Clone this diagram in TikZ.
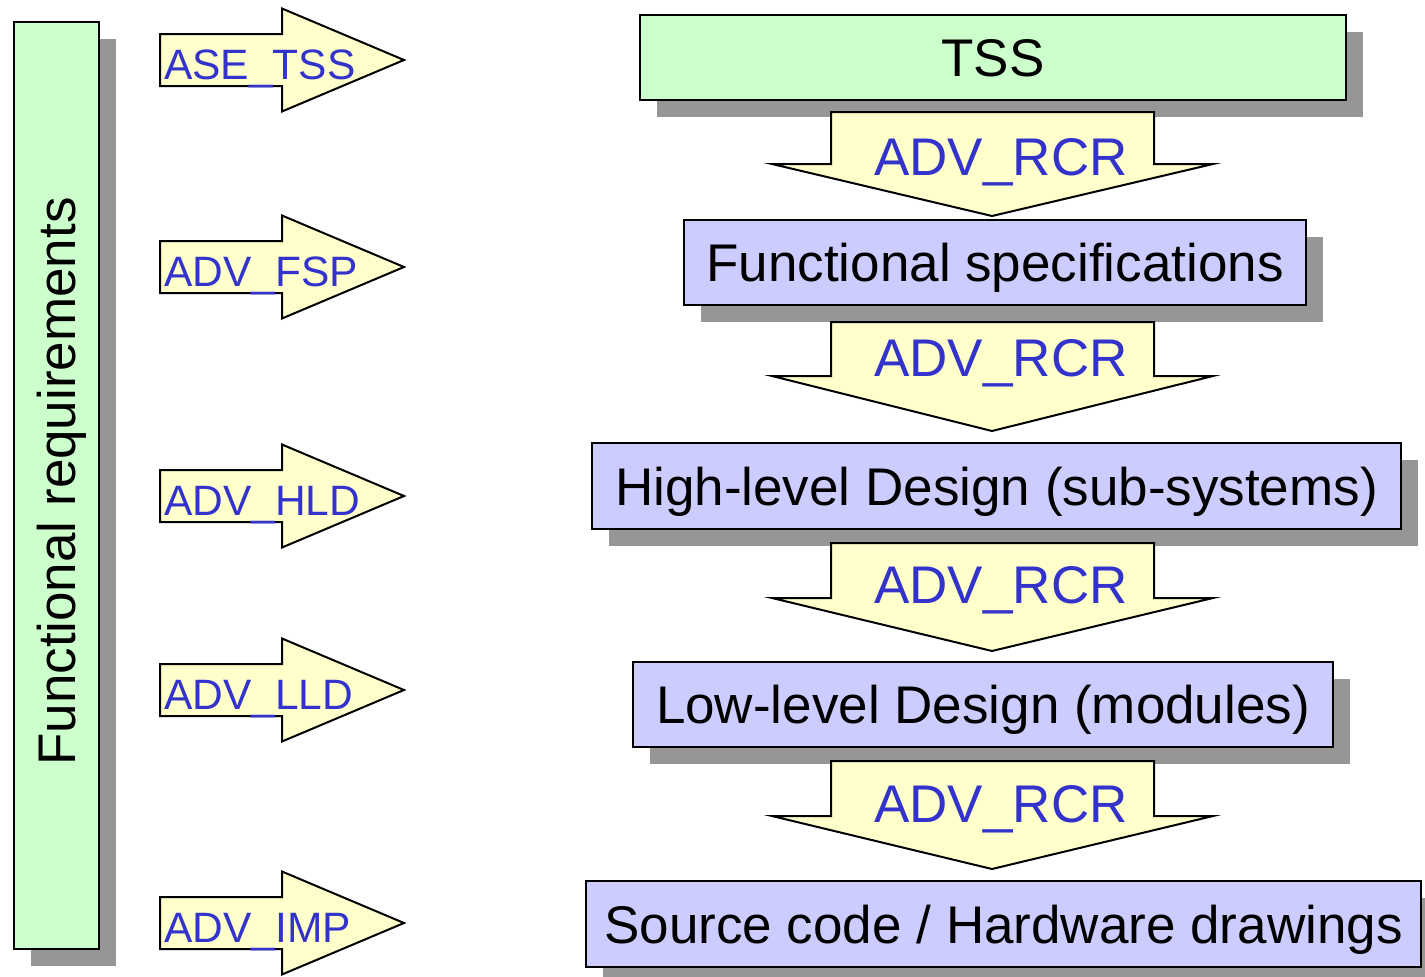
\documentclass[tikz,border=0pt]{standalone}
\usepackage{fontspec}
\setmainfont{Liberation Sans}
\usetikzlibrary{shadows}
\definecolor{reqgreen}{HTML}{CCFFCC}
\definecolor{docblue}{HTML}{CCCCFF}
\definecolor{arrowyellow}{HTML}{FFFFCC}
\definecolor{shadowgray}{HTML}{969696}
\definecolor{labelblue}{HTML}{3333CC}

\tikzset{
  bigfont/.style={font=\fontsize{53pt}{60pt}\selectfont},
  docbox/.style={rectangle, draw=black, line width=2pt, fill=docblue,
    inner sep=0pt, text height=38pt, text depth=0pt, bigfont,
    drop shadow={shadow xshift=16.5pt, shadow yshift=-16.5pt,
      fill=shadowgray, opacity=1}},
  reqbox/.style={docbox, fill=reqgreen},
  flowarrow/.style={draw=black, line width=2pt, fill=arrowyellow, line join=miter},
  rcrlabel/.style={text=labelblue, bigfont, inner sep=0pt, anchor=base},
  sidelabel/.style={text=labelblue, font=\fontsize{42.5pt}{50pt}\selectfont,
    inner sep=0pt, anchor=base west},
}

\begin{document}
\begin{tikzpicture}[x=1pt, y=-1pt]
\useasboundingbox (0,0) rectangle (1425,977);

% left column: functional requirements
\node[reqbox, minimum width=85pt, minimum height=927pt] (req) at (56.5,485.5) {};
\node[rotate=90, bigfont, inner sep=0pt, text height=38pt, text depth=0pt]
  (reqtext) at (56.5,481.5) {Functional requirements};

% design documents
\node[reqbox, minimum width=706pt, minimum height=85pt] (tss) at (993,57.5) {TSS};
\node[docbox, minimum width=622pt, minimum height=85pt] (fsp) at (995,262.5) {Functional specifications};
\node[docbox, minimum width=809pt, minimum height=86pt] (hld) at (996.5,486) {High-level Design (sub-systems)};
\node[docbox, minimum width=700pt, minimum height=85pt] (lld) at (983,704.5) {Low-level Design (modules)};
\node[docbox, minimum width=835pt, minimum height=86pt] (src) at (1003.5,924) {Source code / Hardware drawings};

% refinement arrows between documents
\foreach \t/\s/\p/\b/\n in {112/164/216/175/rcrA, 322/376/431/376/rcrB,
                            543/598/651/603/rcrC, 761/816/869/822/rcrD} {
  \path[flowarrow] (831,\t) -- (1154,\t) -- (1154,\s) -- (1213,\s)
    -- (992,\p) -- (772,\s) -- (831,\s) -- cycle;
  \node[rcrlabel] (\n) at (1001,\b) {ADV\_RCR};
}

% assurance family arrows
\foreach \c/\n/\txt in {60/ase/ASE\_TSS, 267/afsp/ADV\_FSP, 496/ahld/ADV\_HLD,
                        690/alld/ADV\_LLD, 923/aimp/ADV\_IMP} {
  \path[flowarrow] (160,\c-26) -- (282,\c-26) -- (282,\c-51.5) -- (404,\c)
    -- (282,\c+51.5) -- (282,\c+26) -- (160,\c+26) -- cycle;
  \node[sidelabel] (\n) at (164,\c+19.5) {\txt};
}
\end{tikzpicture}
\end{document}
